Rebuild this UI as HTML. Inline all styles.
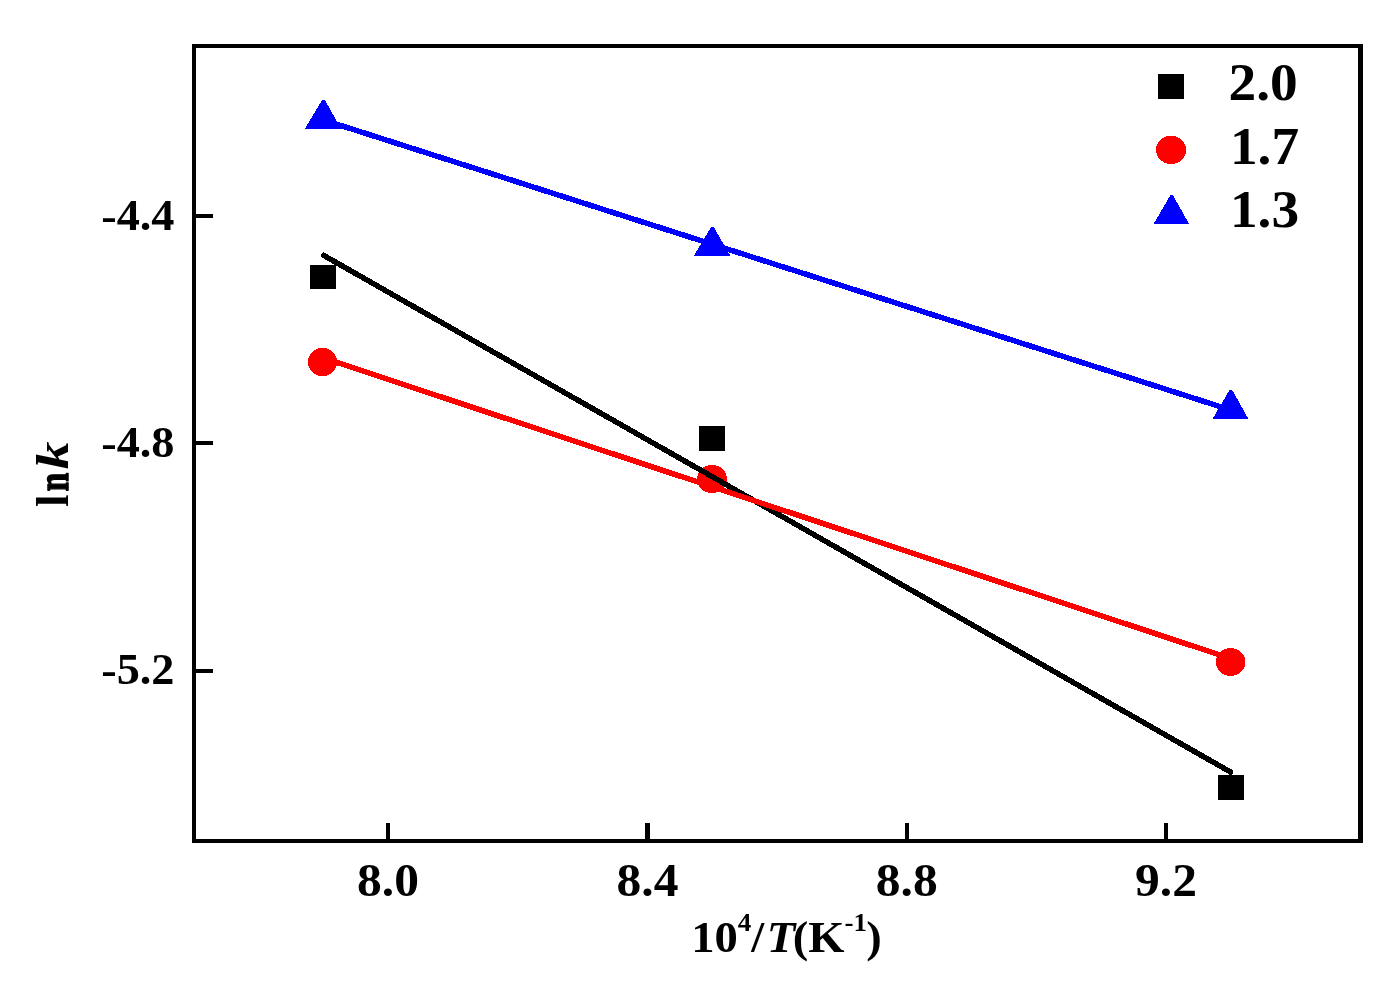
<!DOCTYPE html>
<html>
<head>
<meta charset="utf-8">
<title>lnk vs 10^4/T</title>
<style>
  html, body { margin: 0; padding: 0; background: #ffffff; }
  body { width: 1398px; height: 982px; overflow: hidden; font-family: "Liberation Serif", serif; }
  svg { display: block; will-change: transform; }
  text { font-family: "Liberation Serif", serif; font-weight: bold; fill: #000; }
  .ytick { font-size: 44px; }
  .xtick { font-size: 46.5px; }
  .leg { font-size: 51.8px; }
</style>
</head>
<body>
<svg width="1398" height="982" viewBox="0 0 1398 982">
  <rect x="0" y="0" width="1398" height="982" fill="#ffffff"/>

  <!-- plot frame -->
  <g shape-rendering="crispEdges" fill="#000">
    <rect x="192" y="44" width="1171" height="4"/>
    <rect x="192" y="839" width="1171" height="4"/>
    <rect x="192" y="44" width="4" height="799"/>
    <rect x="1358" y="44" width="5" height="799"/>
    <!-- y ticks -->
    <rect x="196" y="214" width="17" height="4"/>
    <rect x="196" y="441" width="17" height="4"/>
    <rect x="196" y="669" width="17" height="4"/>
    <!-- x ticks -->
    <rect x="386" y="823" width="4" height="16"/>
    <rect x="645" y="823" width="5" height="16"/>
    <rect x="905" y="823" width="4" height="16"/>
    <rect x="1164" y="823" width="4" height="16"/>
  </g>

  <!-- symbols (drawn first) -->
  <g shape-rendering="crispEdges">
    <rect x="310" y="265" width="26" height="24" fill="#000"/>
    <rect x="699" y="426" width="26" height="25" fill="#000"/>
    <rect x="1218" y="775" width="26" height="25" fill="#000"/>

    <ellipse cx="322.5" cy="362" rx="14.6" ry="14.1" fill="#ff0000"/>
    <ellipse cx="712" cy="479" rx="14.9" ry="14.1" fill="#ff0000"/>
    <ellipse cx="1230.7" cy="662" rx="14.7" ry="14" fill="#ff0000"/>

    <polygon points="322.2,99.8 324.7,99.8 341.3,128.9 304.9,128.9" fill="#0000ff"/>
    <polygon points="711.2,226.8 713.6,226.8 730.3,255.8 693.9,255.8" fill="#0000ff"/>
    <polygon points="1229.7,389.8 1232.1,389.8 1248.3,418.8 1212.6,418.8" fill="#0000ff"/>
  </g>

  <!-- fit lines -->
  <g shape-rendering="crispEdges" fill="none" stroke-linecap="round">
    <line x1="323.6" y1="255.3" x2="1230.5" y2="772" stroke="#000" stroke-width="5.5"/>
    <line x1="323" y1="357.8" x2="1231" y2="658.7" stroke="#ff0000" stroke-width="5.5"/>
    <line x1="323" y1="119.8" x2="1231" y2="410.1" stroke="#0000ff" stroke-width="5.5"/>
  </g>

  <!-- legend -->
  <g shape-rendering="crispEdges">
    <rect x="1158" y="74" width="26" height="25" fill="#000"/>
    <ellipse cx="1171.05" cy="149.9" rx="15" ry="14.1" fill="#ff0000"/>
    <polygon points="1170.4,195.1 1172.8,195.1 1189.1,223.9 1153.7,223.9" fill="#0000ff"/>
  </g>
  <g transform="translate(1228.6,99.9) scale(1.069,1)"><text class="leg" x="0" y="0">2.0</text></g>
  <g transform="translate(1229.9,164.1) scale(1.069,1)"><text class="leg" x="0" y="0">1.7</text></g>
  <g transform="translate(1229.9,227) scale(1.069,1)"><text class="leg" x="0" y="0">1.3</text></g>

  <!-- y tick labels -->
  <g transform="translate(101.24,230) scale(1.052,1)"><text class="ytick" x="0" y="0"><tspan dy="0.9">-</tspan><tspan dy="-0.9">4.4</tspan></text></g>
  <g transform="translate(101.24,457) scale(1.052,1)"><text class="ytick" x="0" y="0"><tspan dy="0.9">-</tspan><tspan dy="-0.9">4.8</tspan></text></g>
  <g transform="translate(101.24,684) scale(1.052,1)"><text class="ytick" x="0" y="0"><tspan dy="0.9">-</tspan><tspan dy="-0.9">5.2</tspan></text></g>

  <!-- x tick labels -->
  <g transform="translate(388,895.7) scale(1.065,1)"><text class="xtick" x="0" y="0" text-anchor="middle">8.0</text></g>
  <g transform="translate(647.5,895.7) scale(1.065,1)"><text class="xtick" x="0" y="0" text-anchor="middle">8.4</text></g>
  <g transform="translate(906.7,895.7) scale(1.065,1)"><text class="xtick" x="0" y="0" text-anchor="middle">8.8</text></g>
  <g transform="translate(1166,895.7) scale(1.065,1)"><text class="xtick" x="0" y="0" text-anchor="middle">9.2</text></g>

  <!-- y axis title (glyphs placed individually) -->
  <g transform="translate(68.05,506.9) rotate(-90)"><text x="0" y="0" font-size="45.4">l</text></g>
  <g transform="translate(67.6,491.3) rotate(-90) scale(0.72,0.97)"><text x="0" y="0" font-size="46.3" stroke="#000" stroke-width="1.6" stroke-linejoin="round">n</text></g>
  <g transform="translate(68.05,469.3) rotate(-90) scale(1.2,1)"><text x="0" y="0" font-size="46.1" font-style="italic">k</text></g>

  <!-- x axis title -->
  <g transform="translate(691.2,952.4) scale(1.06,1)"><text x="0" y="0" font-size="44">10<tspan font-size="25.5" dy="-21.7">4</tspan><tspan dy="21.7">/</tspan><tspan font-style="italic" dx="2.2">T</tspan><tspan dx="-2.2">(</tspan>K<tspan font-size="25.5" dy="-21.7">-1</tspan><tspan dy="21.7" dx="-0.8">)</tspan></text></g>
</svg>
</body>
</html>
